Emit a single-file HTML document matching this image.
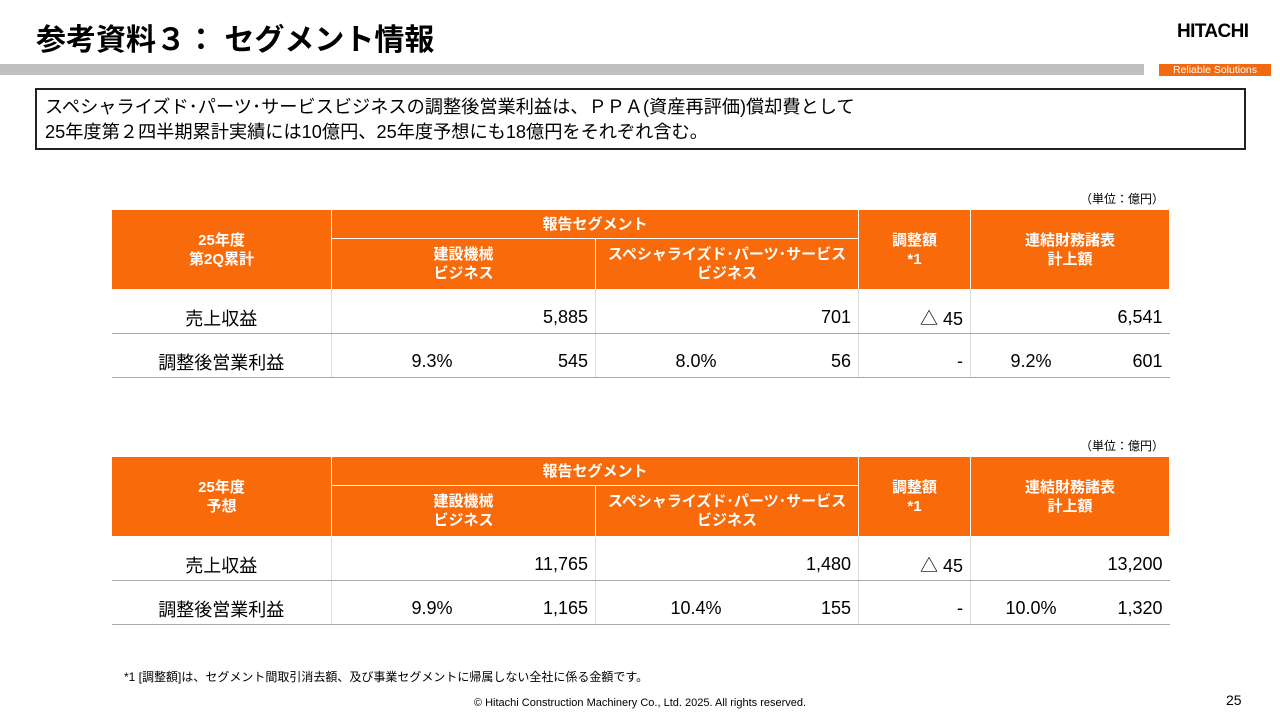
<!DOCTYPE html>
<html><head><meta charset="utf-8">
<style>
*{margin:0;padding:0;box-sizing:border-box}
body{width:1280px;height:720px;background:#fff;position:relative;overflow:hidden;font-family:"Liberation Sans","Noto Sans CJK JP",sans-serif;color:#000}
.abs{position:absolute}
h1{position:absolute;left:36px;top:15px;font-size:30px;font-weight:bold;white-space:nowrap}
.bar{left:0;top:64px;width:1144px;height:11px;background:#c0c0c0}
.logo{left:1177px;top:21px;font-size:19px;font-weight:bold;letter-spacing:-0.6px}
.rs{left:1159px;top:64px;width:112px;height:12px;background:#f26a0f;color:#fff;font-size:10.5px;text-align:center;line-height:12px}
.note{left:35px;top:88px;width:1211px;height:62px;border:2px solid #222;font-size:18.2px;line-height:25px;padding:5px 0 0 8px;white-space:nowrap}
.unit{font-size:12px;left:1080px}
table{position:absolute;left:111px;border-collapse:collapse;table-layout:fixed;width:1058px}
td{font-size:18px;padding:0}
.h td{background:#f86a0a;color:#fff;font-weight:bold;font-size:15px;text-align:center;line-height:19px;border:1px solid #fff}
.d td{border-bottom:1px solid #aaa;border-left:1px solid #ddd;height:44px;padding-top:12px;vertical-align:middle}
.d td:first-child{border-left:none;text-align:center}
.r{text-align:right;padding-right:7px!important}
.pv{position:relative}
.pv .p{position:absolute;left:0;width:200px;text-align:center}
.foot{left:124px;top:668px;font-size:12px}
.copy{left:0;width:1280px;text-align:center;top:697px;font-size:11px}
.pg{left:1226px;top:692px;font-size:14px}
</style></head><body>
<h1>参考資料３： セグメント情報</h1>
<div class="abs logo">HITACHI</div>
<div class="abs bar"></div>
<div class="abs rs">Reliable Solutions</div>
<div class="abs note">スペシャライズド･パーツ･サービスビジネスの調整後営業利益は、ＰＰＡ(資産再評価)償却費として<br>25年度第２四半期累計実績には10億円、25年度予想にも18億円をそれぞれ含む。</div>

<div class="abs unit" style="top:190px">（単位：億円）</div>
<table style="top:209px">
<colgroup><col style="width:220px"><col style="width:264px"><col style="width:263px"><col style="width:112px"><col style="width:199px"></colgroup>
<tr class="h" style="height:29px"><td rowspan="2">25年度<br>第2Q累計</td><td colspan="2">報告セグメント</td><td rowspan="2">調整額<br>*1</td><td rowspan="2">連結財務諸表<br>計上額</td></tr>
<tr class="h" style="height:51px"><td>建設機械<br>ビジネス</td><td>スペシャライズド･パーツ･サービス<br>ビジネス</td></tr>
<tr class="d"><td>売上収益</td><td class="r">5,885</td><td class="r">701</td><td class="r">△ 45</td><td class="r">6,541</td></tr>
<tr class="d"><td>調整後営業利益</td><td class="r pv"><span class="p">9.3%</span>545</td><td class="r pv"><span class="p">8.0%</span>56</td><td class="r">-</td><td class="r pv"><span class="p" style="width:120px">9.2%</span>601</td></tr>
</table>

<div class="abs unit" style="top:437px">（単位：億円）</div>
<table style="top:456px">
<colgroup><col style="width:220px"><col style="width:264px"><col style="width:263px"><col style="width:112px"><col style="width:199px"></colgroup>
<tr class="h" style="height:29px"><td rowspan="2">25年度<br>予想</td><td colspan="2">報告セグメント</td><td rowspan="2">調整額<br>*1</td><td rowspan="2">連結財務諸表<br>計上額</td></tr>
<tr class="h" style="height:51px"><td>建設機械<br>ビジネス</td><td>スペシャライズド･パーツ･サービス<br>ビジネス</td></tr>
<tr class="d"><td>売上収益</td><td class="r">11,765</td><td class="r">1,480</td><td class="r">△ 45</td><td class="r">13,200</td></tr>
<tr class="d"><td>調整後営業利益</td><td class="r pv"><span class="p">9.9%</span>1,165</td><td class="r pv"><span class="p">10.4%</span>155</td><td class="r">-</td><td class="r pv"><span class="p" style="width:120px">10.0%</span>1,320</td></tr>
</table>

<div class="abs foot">*1 [調整額]は、セグメント間取引消去額、及び事業セグメントに帰属しない全社に係る金額です。</div>
<div class="abs copy">© Hitachi Construction Machinery Co., Ltd. 2025. All rights reserved.</div>
<div class="abs pg">25</div>
</body></html>
